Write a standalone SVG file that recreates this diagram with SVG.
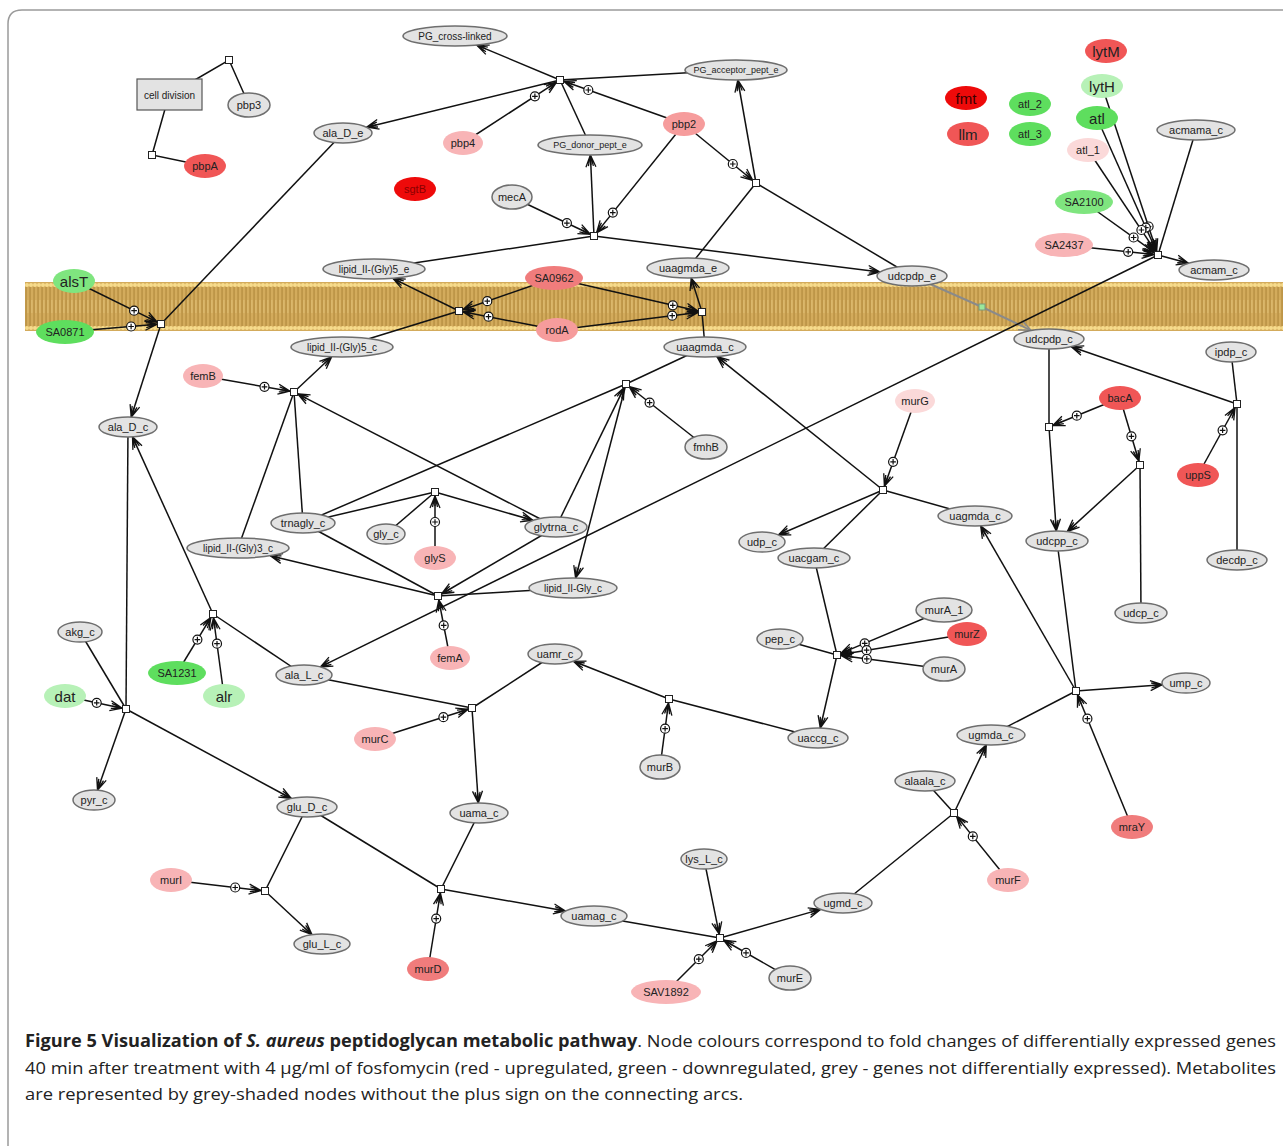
<svg xmlns="http://www.w3.org/2000/svg" width="1283" height="1146" viewBox="0 0 1283 1146">
<style>
text{font-family:"Liberation Sans",Arial,sans-serif;font-size:11px;fill:#222;text-anchor:middle;dominant-baseline:central}
.met ellipse,.gg ellipse{fill:#e3e3e3;stroke:#6e6e6e;stroke-width:1.5}
.gene ellipse{stroke:none}
.big text{font-size:15px}
.sm text{font-size:10px}
.xs text{font-size:9px}
.r1 ellipse{fill:#ee0a0a}
.r2 ellipse{fill:#f05656}
.r3 ellipse{fill:#f07c7c}
.pk ellipse{fill:#f8b4b6}
.pk2 ellipse{fill:#f69c9c}
.lp ellipse{fill:#fbd9d9}
.gr ellipse{fill:#5ede5e}
.gr2 ellipse{fill:#7fe57f}
.lg ellipse{fill:#b7f1b7}
.rx rect{fill:#fff;stroke:#222;stroke-width:1}
.tr rect{fill:#9be89b;stroke:#7a9a7a;stroke-width:1}
#edges path{fill:none;stroke:#111;stroke-width:1.5}
#edges .a{marker-end:url(#ah)}
#edges .g{stroke:#8a8a8a;stroke-width:2;marker-end:url(#ahg)}
.cap{font-family:"Open Sans","Liberation Sans",sans-serif;font-size:17px;fill:#222;text-anchor:start;dominant-baseline:auto}
.cap tspan{font-family:"Open Sans","Liberation Sans",sans-serif}
</style>
<defs>
<marker id="ah" viewBox="0 0 14 12" refX="13" refY="6" markerWidth="14" markerHeight="12" markerUnits="userSpaceOnUse" orient="auto"><path d="M1,1 L13,6 L1,11 M3,6 L13,6 M2,3.5 L13,6 L2,8.5" fill="none" stroke="#111" stroke-width="1.3"/></marker>
<marker id="ahg" viewBox="0 0 14 12" refX="13" refY="6" markerWidth="14" markerHeight="12" markerUnits="userSpaceOnUse" orient="auto"><path d="M1,1 L13,6 L1,11" fill="none" stroke="#8a8a8a" stroke-width="1.6"/></marker>
<g id="pl"><circle r="4.5" fill="#fff" stroke="#111" stroke-width="1.2"/><path d="M-2.8,0H2.8M0,-2.8V2.8" stroke="#111" stroke-width="1.2"/></g>
<pattern id="lip" x="25" y="282" width="4" height="49" patternUnits="userSpaceOnUse">
<rect width="4" height="49" fill="#d3ab5c"/>
<rect x="0.4" y="5" width="1.3" height="39" fill="#b58d3f"/>
<rect x="2.4" y="18" width="1" height="13" fill="#e0bf75"/>
<circle cx="2" cy="3" r="2" fill="#f7dc8c"/>
<circle cx="2" cy="46" r="2" fill="#f7dc8c"/>
</pattern>
</defs>
<rect width="1283" height="1146" fill="#fff"/>
<path d="M1290,10 H22 Q8,10 8,24 V1150" fill="none" stroke="#9a9a9a" stroke-width="1.5"/>
<rect id="membrane" x="25" y="282" width="1258" height="49" fill="url(#lip)"/>

<g id="edges">
<path d="M169,95 L229,60 L249,105"/>
<path d="M169,95 L152,155 L205,166"/>
<path d="M736,70 L560,80"/>
<path d="M590,145 L560,80"/>
<path d="M374,269 L594,236"/>
<path d="M688,268 L756,183"/>
<path d="M756,183 L912,276"/>
<path d="M343,133 L161,324"/>
<path d="M342,347 L459,311"/>
<path d="M705,347 L702,312"/>
<path d="M1196,130 L1158,255"/>
<path d="M238,548 L294,392"/>
<path d="M303,523 L294,392"/>
<path d="M303,523 L626,384"/>
<path d="M705,347 L626,384"/>
<path d="M386,534 L435,492"/>
<path d="M303,523 L435,492"/>
<path d="M303,523 L438,596"/>
<path d="M573,588 L438,596"/>
<path d="M304,675 L213,614"/>
<path d="M128,427 L126,709"/>
<path d="M80,632 L126,709"/>
<path d="M307,807 L265,891"/>
<path d="M304,675 L472,708"/>
<path d="M555,654 L472,708"/>
<path d="M307,807 L441,889"/>
<path d="M479,813 L441,889"/>
<path d="M594,916 L720,938"/>
<path d="M843,903 L954,813"/>
<path d="M925,781 L954,813"/>
<path d="M991,735 L1076,691"/>
<path d="M1057,541 L1076,691"/>
<path d="M780,639 L837,655"/>
<path d="M814,558 L837,655"/>
<path d="M818,738 L669,699"/>
<path d="M975,516 L883,490"/>
<path d="M814,558 L883,490"/>
<path d="M1049,339 L1049,427"/>
<path d="M1141,613 L1140,465"/>
<path d="M1231,352 L1237,404"/>
<path d="M1237,560 L1237,404"/>
<path class="g" d="M912,276 L982,307 L1031,330.4"/>
<path class="a" d="M560,80 L476.7,45.1"/>
<path class="a" d="M560,80 L366.7,127.2"/>
<path class="a" d="M594,236 L590.4,155"/>
<path class="a" d="M594,236 L880,272"/>
<path class="a" d="M756,183 L737.8,80"/>
<path class="a" d="M161,324 L131.2,417.1"/>
<path class="a" d="M459,311 L392.8,278.3"/>
<path class="a" d="M702,312 L691.2,278"/>
<path class="a" d="M1158,255 L1188.5,263.2"/>
<path class="a" d="M1158,255 L320.4,666.9"/>
<path class="a" d="M294,392 L331.6,356.8"/>
<path class="a" d="M626,384 L575.6,578"/>
<path class="a" d="M435,492 L532.9,520.3"/>
<path class="a" d="M438,596 L270.2,555.7"/>
<path class="a" d="M213,614 L132.5,436.9"/>
<path class="a" d="M126,709 L97.5,790.1"/>
<path class="a" d="M126,709 L291.3,798.5"/>
<path class="a" d="M265,891 L312,934.7"/>
<path class="a" d="M472,708 L478.3,803"/>
<path class="a" d="M441,889 L565.5,911"/>
<path class="a" d="M669,699 L573.5,661.3"/>
<path class="a" d="M720,938 L820.6,909.4"/>
<path class="a" d="M954,813 L986.3,744.9"/>
<path class="a" d="M1076,691 L1162.3,684.7"/>
<path class="a" d="M1076,691 L980.7,525.9"/>
<path class="a" d="M837,655 L820.3,728"/>
<path class="a" d="M883,490 L778.3,535"/>
<path class="a" d="M883,490 L716.9,356.6"/>
<path class="a" d="M1049,427 L1056.3,531"/>
<path class="a" d="M1140,465 L1067.3,531.6"/>
<path class="a" d="M1237,404 L1071.3,346.7"/>
<path class="a" d="M556,527 L297.6,393.8"/>
<path class="a" d="M556,527 L624.2,387.6"/>
<path class="a" d="M556,527 L441.5,594"/>
<path class="a" d="M704,859 L719.2,934.1"/>
<path class="a" d="M463,143 L556.6,82.2"/>
<path class="a" d="M684,124 L563.8,81.3"/>
<path class="a" d="M684,124 L752.9,180.5"/>
<path class="a" d="M684,124 L596.5,232.9"/>
<path class="a" d="M512,197 L590.4,234.3"/>
<path class="a" d="M74,281 L157.4,322.2"/>
<path class="a" d="M65,332 L157,324.3"/>
<path class="a" d="M554,278 L462.8,309.7"/>
<path class="a" d="M557,330 L462.9,311.8"/>
<path class="a" d="M554,278 L698.1,311.1"/>
<path class="a" d="M557,330 L698,312.5"/>
<path class="a" d="M1102,86 L1156.7,251.2"/>
<path class="a" d="M1097,118 L1156.4,251.3"/>
<path class="a" d="M1088,150 L1155.8,251.7"/>
<path class="a" d="M1084,202 L1154.7,252.7"/>
<path class="a" d="M1064,245 L1154,254.6"/>
<path class="a" d="M203,376 L290.1,391.3"/>
<path class="a" d="M706,447 L629.1,386.5"/>
<path class="a" d="M435,558 L435,496"/>
<path class="a" d="M450,658 L438.8,599.9"/>
<path class="a" d="M177,673 L210.9,617.4"/>
<path class="a" d="M224,696 L213.5,618"/>
<path class="a" d="M65,696 L122.1,708.2"/>
<path class="a" d="M171,880 L261,890.5"/>
<path class="a" d="M375,739 L468.2,709.2"/>
<path class="a" d="M428,969 L440.4,893"/>
<path class="a" d="M660,767 L668.5,703"/>
<path class="a" d="M666,992 L717.2,940.8"/>
<path class="a" d="M790,978 L723.5,940"/>
<path class="a" d="M1008,880 L956.5,816.1"/>
<path class="a" d="M1132,827 L1077.5,694.7"/>
<path class="a" d="M944,610 L840.7,653.4"/>
<path class="a" d="M967,634 L840.9,654.4"/>
<path class="a" d="M944,669 L841,655.5"/>
<path class="a" d="M915,401 L884.4,486.2"/>
<path class="a" d="M1120,398 L1052.7,425.5"/>
<path class="a" d="M1120,398 L1138.9,461.2"/>
<path class="a" d="M1198,475 L1235.1,407.5"/>
<use href="#pl" x="534.9" y="96.3"/>
<use href="#pl" x="588.3" y="90"/>
<use href="#pl" x="732.8" y="164"/>
<use href="#pl" x="612.8" y="212.6"/>
<use href="#pl" x="566.9" y="223.1"/>
<use href="#pl" x="134.1" y="310.7"/>
<use href="#pl" x="131.1" y="326.5"/>
<use href="#pl" x="487.3" y="301.2"/>
<use href="#pl" x="488.5" y="316.7"/>
<use href="#pl" x="672.8" y="305.3"/>
<use href="#pl" x="672.2" y="315.7"/>
<use href="#pl" x="1148.6" y="226.5"/>
<use href="#pl" x="1145.8" y="227.6"/>
<use href="#pl" x="1141.4" y="230"/>
<use href="#pl" x="1133.6" y="237.5"/>
<use href="#pl" x="1128.2" y="251.8"/>
<use href="#pl" x="264.5" y="386.8"/>
<use href="#pl" x="649.6" y="402.6"/>
<use href="#pl" x="435" y="522"/>
<use href="#pl" x="443.7" y="625.4"/>
<use href="#pl" x="197.4" y="639.6"/>
<use href="#pl" x="217" y="643.7"/>
<use href="#pl" x="96.7" y="702.8"/>
<use href="#pl" x="235.2" y="887.5"/>
<use href="#pl" x="443.4" y="717.2"/>
<use href="#pl" x="436.2" y="918.6"/>
<use href="#pl" x="665.1" y="728.7"/>
<use href="#pl" x="698.8" y="959.2"/>
<use href="#pl" x="746" y="952.9"/>
<use href="#pl" x="972.8" y="836.4"/>
<use href="#pl" x="1087.4" y="718.7"/>
<use href="#pl" x="864.7" y="643.4"/>
<use href="#pl" x="866.6" y="650.2"/>
<use href="#pl" x="866.8" y="658.9"/>
<use href="#pl" x="893.1" y="461.8"/>
<use href="#pl" x="1076.8" y="415.7"/>
<use href="#pl" x="1131.4" y="436.3"/>
<use href="#pl" x="1222.6" y="430.3"/>
</g>

<g id="nodes">
<g id="cell_division"><rect x="137" y="79" width="65" height="31" fill="#e3e3e3" stroke="#555" stroke-width="1.2"/><text x="169.5" y="95" style="font-size:10px">cell division</text></g>
<g id="reactions" class="rx">
<rect id="r_cd1" x="225.5" y="56.5" width="7" height="7"/>
<rect id="r_cd2" x="148.5" y="151.5" width="7" height="7"/>
<rect id="r_pg" x="556.5" y="76.5" width="7" height="7"/>
<rect id="r_pbp2" x="752.5" y="179.5" width="7" height="7"/>
<rect id="r_meca" x="590.5" y="232.5" width="7" height="7"/>
<rect id="r_alst" x="157.5" y="320.5" width="7" height="7"/>
<rect id="r_lip5" x="455.5" y="307.5" width="7" height="7"/>
<rect id="r_uaag" x="698.5" y="308.5" width="7" height="7"/>
<rect id="r_atl" x="1154.5" y="251.5" width="7" height="7"/>
<rect id="r_femb" x="290.5" y="388.5" width="7" height="7"/>
<rect id="r_fmhb" x="622.5" y="380.5" width="7" height="7"/>
<rect id="r_glys" x="431.5" y="488.5" width="7" height="7"/>
<rect id="r_fema" x="434.5" y="592.5" width="7" height="7"/>
<rect id="r_alr" x="209.5" y="610.5" width="7" height="7"/>
<rect id="r_dat" x="122.5" y="705.5" width="7" height="7"/>
<rect id="r_muri" x="261.5" y="887.5" width="7" height="7"/>
<rect id="r_murc" x="468.5" y="704.5" width="7" height="7"/>
<rect id="r_murd" x="437.5" y="885.5" width="7" height="7"/>
<rect id="r_murb" x="665.5" y="695.5" width="7" height="7"/>
<rect id="r_mure" x="716.5" y="934.5" width="7" height="7"/>
<rect id="r_murf" x="950.5" y="809.5" width="7" height="7"/>
<rect id="r_mray" x="1072.5" y="687.5" width="7" height="7"/>
<rect id="r_mura" x="833.5" y="651.5" width="7" height="7"/>
<rect id="r_murg" x="879.5" y="486.5" width="7" height="7"/>
<rect id="r_baca1" x="1045.5" y="423.5" width="7" height="7"/>
<rect id="r_baca2" x="1136.5" y="461.5" width="7" height="7"/>
<rect id="r_upps" x="1233.5" y="400.5" width="7" height="7"/>
</g>
<g id="r_transport" class="tr"><rect x="979" y="304" width="6" height="6"/></g>
<g id="PG_cross-linked" class="met sm"><ellipse cx="455" cy="36" rx="52" ry="10"/><text x="455" y="36">PG_cross-linked</text></g>
<g id="PG_acceptor_pept_e" class="met xs"><ellipse cx="736" cy="70" rx="51" ry="10"/><text x="736" y="70">PG_acceptor_pept_e</text></g>
<g id="PG_donor_pept_e" class="met xs"><ellipse cx="590" cy="145" rx="52" ry="10"/><text x="590" y="145">PG_donor_pept_e</text></g>
<g id="ala_D_e" class="met"><ellipse cx="343" cy="133" rx="29" ry="10"/><text x="343" y="133">ala_D_e</text></g>
<g id="lipid_II-Gly5_e" class="met sm"><ellipse cx="374" cy="269" rx="51" ry="10"/><text x="374" y="269">lipid_II-(Gly)5_e</text></g>
<g id="uaagmda_e" class="met"><ellipse cx="688" cy="268" rx="41" ry="10"/><text x="688" y="268">uaagmda_e</text></g>
<g id="udcpdp_e" class="met"><ellipse cx="912" cy="276" rx="35" ry="10"/><text x="912" y="276">udcpdp_e</text></g>
<g id="acmama_c" class="met"><ellipse cx="1196" cy="130" rx="39" ry="10"/><text x="1196" y="130">acmama_c</text></g>
<g id="acmam_c" class="met"><ellipse cx="1214" cy="270" rx="35" ry="10"/><text x="1214" y="270">acmam_c</text></g>
<g id="udcpdp_c" class="met"><ellipse cx="1049" cy="339" rx="35" ry="10"/><text x="1049" y="339">udcpdp_c</text></g>
<g id="ipdp_c" class="met"><ellipse cx="1231" cy="352" rx="25" ry="10"/><text x="1231" y="352">ipdp_c</text></g>
<g id="udcpp_c" class="met"><ellipse cx="1057" cy="541" rx="31" ry="10"/><text x="1057" y="541">udcpp_c</text></g>
<g id="decdp_c" class="met"><ellipse cx="1237" cy="560" rx="30" ry="10"/><text x="1237" y="560">decdp_c</text></g>
<g id="udcp_c" class="met"><ellipse cx="1141" cy="613" rx="26" ry="10"/><text x="1141" y="613">udcp_c</text></g>
<g id="uagmda_c" class="met"><ellipse cx="975" cy="516" rx="37" ry="10"/><text x="975" y="516">uagmda_c</text></g>
<g id="uaagmda_c" class="met"><ellipse cx="705" cy="347" rx="41" ry="10"/><text x="705" y="347">uaagmda_c</text></g>
<g id="lipid_II-Gly5_c" class="met sm"><ellipse cx="342" cy="347" rx="51" ry="10"/><text x="342" y="347">lipid_II-(Gly)5_c</text></g>
<g id="ala_D_c" class="met"><ellipse cx="128" cy="427" rx="29" ry="10"/><text x="128" y="427">ala_D_c</text></g>
<g id="trnagly_c" class="met"><ellipse cx="303" cy="523" rx="32" ry="10"/><text x="303" y="523">trnagly_c</text></g>
<g id="lipid_II-Gly3_c" class="met sm"><ellipse cx="238" cy="548" rx="51" ry="10"/><text x="238" y="548">lipid_II-(Gly)3_c</text></g>
<g id="gly_c" class="met"><ellipse cx="386" cy="534" rx="19" ry="10"/><text x="386" y="534">gly_c</text></g>
<g id="glytrna_c" class="met"><ellipse cx="556" cy="527" rx="31" ry="10"/><text x="556" y="527">glytrna_c</text></g>
<g id="lipid_II-Gly_c" class="met sm"><ellipse cx="573" cy="588" rx="44" ry="10"/><text x="573" y="588">lipid_II-Gly_c</text></g>
<g id="uamr_c" class="met"><ellipse cx="555" cy="654" rx="27" ry="10"/><text x="555" y="654">uamr_c</text></g>
<g id="udp_c" class="met"><ellipse cx="762" cy="542" rx="23" ry="10"/><text x="762" y="542">udp_c</text></g>
<g id="uacgam_c" class="met"><ellipse cx="814" cy="558" rx="36" ry="10"/><text x="814" y="558">uacgam_c</text></g>
<g id="pep_c" class="met"><ellipse cx="780" cy="639" rx="23" ry="10"/><text x="780" y="639">pep_c</text></g>
<g id="ump_c" class="met"><ellipse cx="1186" cy="683" rx="24" ry="10"/><text x="1186" y="683">ump_c</text></g>
<g id="ugmda_c" class="met"><ellipse cx="991" cy="735" rx="34" ry="10"/><text x="991" y="735">ugmda_c</text></g>
<g id="alaala_c" class="met"><ellipse cx="925" cy="781" rx="30" ry="10"/><text x="925" y="781">alaala_c</text></g>
<g id="uaccg_c" class="met"><ellipse cx="818" cy="738" rx="30" ry="10"/><text x="818" y="738">uaccg_c</text></g>
<g id="lys_L_c" class="met"><ellipse cx="704" cy="859" rx="23" ry="10"/><text x="704" y="859">lys_L_c</text></g>
<g id="ugmd_c" class="met"><ellipse cx="843" cy="903" rx="29" ry="10"/><text x="843" y="903">ugmd_c</text></g>
<g id="uamag_c" class="met"><ellipse cx="594" cy="916" rx="33" ry="10"/><text x="594" y="916">uamag_c</text></g>
<g id="uama_c" class="met"><ellipse cx="479" cy="813" rx="29" ry="10"/><text x="479" y="813">uama_c</text></g>
<g id="glu_D_c" class="met"><ellipse cx="307" cy="807" rx="30" ry="10"/><text x="307" y="807">glu_D_c</text></g>
<g id="glu_L_c" class="met"><ellipse cx="322" cy="944" rx="28" ry="10"/><text x="322" y="944">glu_L_c</text></g>
<g id="pyr_c" class="met"><ellipse cx="94" cy="800" rx="21" ry="10"/><text x="94" y="800">pyr_c</text></g>
<g id="akg_c" class="met"><ellipse cx="80" cy="632" rx="22" ry="10"/><text x="80" y="632">akg_c</text></g>
<g id="ala_L_c" class="met"><ellipse cx="304" cy="675" rx="28" ry="10"/><text x="304" y="675">ala_L_c</text></g>
<g id="pbp3" class="gg"><ellipse cx="249" cy="105" rx="21" ry="12"/><text x="249" y="105">pbp3</text></g>
<g id="mecA" class="gg"><ellipse cx="512" cy="197" rx="20" ry="12"/><text x="512" y="197">mecA</text></g>
<g id="fmhB" class="gg"><ellipse cx="706" cy="447" rx="21" ry="12"/><text x="706" y="447">fmhB</text></g>
<g id="murA_1" class="gg"><ellipse cx="944" cy="610" rx="28" ry="12"/><text x="944" y="610">murA_1</text></g>
<g id="murA" class="gg"><ellipse cx="944" cy="669" rx="21" ry="12"/><text x="944" y="669">murA</text></g>
<g id="murB" class="gg"><ellipse cx="660" cy="767" rx="20" ry="12"/><text x="660" y="767">murB</text></g>
<g id="murE" class="gg"><ellipse cx="790" cy="978" rx="21" ry="12"/><text x="790" y="978">murE</text></g>
<g id="pbpA" class="gene r2"><ellipse cx="205" cy="166" rx="21" ry="12"/><text x="205" y="166">pbpA</text></g>
<g id="sgtB" class="gene r1"><ellipse cx="415" cy="189" rx="21" ry="12"/><text x="415" y="189" style="fill:#8a0000">sgtB</text></g>
<g id="pbp4" class="gene pk"><ellipse cx="463" cy="143" rx="20" ry="12"/><text x="463" y="143">pbp4</text></g>
<g id="pbp2" class="gene pk2"><ellipse cx="684" cy="124" rx="21" ry="12"/><text x="684" y="124">pbp2</text></g>
<g id="fmt" class="gene r1 big"><ellipse cx="966" cy="98" rx="21" ry="12"/><text x="966" y="98" style="fill:#3a0000">fmt</text></g>
<g id="llm" class="gene r2 big"><ellipse cx="968" cy="134" rx="21" ry="12"/><text x="968" y="134">llm</text></g>
<g id="atl_2" class="gene gr"><ellipse cx="1030" cy="104" rx="21" ry="12"/><text x="1030" y="104">atl_2</text></g>
<g id="atl_3" class="gene gr"><ellipse cx="1030" cy="134" rx="21" ry="12"/><text x="1030" y="134">atl_3</text></g>
<g id="lytM" class="gene r2 big"><ellipse cx="1106" cy="51" rx="21" ry="12"/><text x="1106" y="51">lytM</text></g>
<g id="lytH" class="gene lg big"><ellipse cx="1102" cy="86" rx="21" ry="12"/><text x="1102" y="86">lytH</text></g>
<g id="atl" class="gene gr big"><ellipse cx="1097" cy="118" rx="21" ry="12"/><text x="1097" y="118">atl</text></g>
<g id="atl_1" class="gene lp"><ellipse cx="1088" cy="150" rx="21" ry="12"/><text x="1088" y="150">atl_1</text></g>
<g id="SA2100" class="gene gr2"><ellipse cx="1084" cy="202" rx="29" ry="12"/><text x="1084" y="202">SA2100</text></g>
<g id="SA2437" class="gene pk"><ellipse cx="1064" cy="245" rx="29" ry="12"/><text x="1064" y="245">SA2437</text></g>
<g id="alsT" class="gene gr2 big"><ellipse cx="74" cy="281" rx="21" ry="12"/><text x="74" y="281">alsT</text></g>
<g id="SA0871" class="gene gr"><ellipse cx="65" cy="332" rx="29" ry="12"/><text x="65" y="332">SA0871</text></g>
<g id="SA0962" class="gene r3"><ellipse cx="554" cy="278" rx="29" ry="12"/><text x="554" y="278">SA0962</text></g>
<g id="rodA" class="gene pk2"><ellipse cx="557" cy="330" rx="21" ry="12"/><text x="557" y="330">rodA</text></g>
<g id="femB" class="gene pk"><ellipse cx="203" cy="376" rx="20" ry="12"/><text x="203" y="376">femB</text></g>
<g id="murG" class="gene lp"><ellipse cx="915" cy="401" rx="20" ry="12"/><text x="915" y="401">murG</text></g>
<g id="bacA" class="gene r2"><ellipse cx="1120" cy="398" rx="21" ry="12"/><text x="1120" y="398">bacA</text></g>
<g id="uppS" class="gene r2"><ellipse cx="1198" cy="475" rx="21" ry="12"/><text x="1198" y="475">uppS</text></g>
<g id="murZ" class="gene r2"><ellipse cx="967" cy="634" rx="20" ry="12"/><text x="967" y="634">murZ</text></g>
<g id="glyS" class="gene pk"><ellipse cx="435" cy="558" rx="21" ry="12"/><text x="435" y="558">glyS</text></g>
<g id="femA" class="gene pk"><ellipse cx="450" cy="658" rx="20" ry="12"/><text x="450" y="658">femA</text></g>
<g id="murC" class="gene pk"><ellipse cx="375" cy="739" rx="21" ry="12"/><text x="375" y="739">murC</text></g>
<g id="murD" class="gene r3"><ellipse cx="428" cy="969" rx="21" ry="12"/><text x="428" y="969">murD</text></g>
<g id="murI" class="gene pk"><ellipse cx="171" cy="880" rx="21" ry="12"/><text x="171" y="880">murI</text></g>
<g id="mraY" class="gene r3"><ellipse cx="1132" cy="827" rx="21" ry="12"/><text x="1132" y="827">mraY</text></g>
<g id="murF" class="gene pk"><ellipse cx="1008" cy="880" rx="21" ry="12"/><text x="1008" y="880">murF</text></g>
<g id="SAV1892" class="gene pk"><ellipse cx="666" cy="992" rx="35" ry="12"/><text x="666" y="992">SAV1892</text></g>
<g id="SA1231" class="gene gr"><ellipse cx="177" cy="673" rx="29" ry="12"/><text x="177" y="673">SA1231</text></g>
<g id="dat" class="gene lg big"><ellipse cx="65" cy="696" rx="21" ry="12"/><text x="65" y="696">dat</text></g>
<g id="alr" class="gene lg big"><ellipse cx="224" cy="696" rx="21" ry="12"/><text x="224" y="696">alr</text></g>
</g>

<g id="caption">
<text class="cap" x="25" y="1047" textLength="1251" lengthAdjust="spacingAndGlyphs"><tspan font-weight="bold">Figure 5 Visualization of </tspan><tspan font-weight="bold" font-style="italic">S. aureus</tspan><tspan font-weight="bold"> peptidoglycan metabolic pathway</tspan>. Node colours correspond to fold changes of differentially expressed genes</text>
<text class="cap" x="25" y="1074" textLength="1251" lengthAdjust="spacingAndGlyphs">40 min after treatment with 4 µg/ml of fosfomycin (red - upregulated, green - downregulated, grey - genes not differentially expressed). Metabolites</text>
<text class="cap" x="25" y="1100" textLength="718" lengthAdjust="spacingAndGlyphs">are represented by grey-shaded nodes without the plus sign on the connecting arcs.</text>
</g>
</svg>
